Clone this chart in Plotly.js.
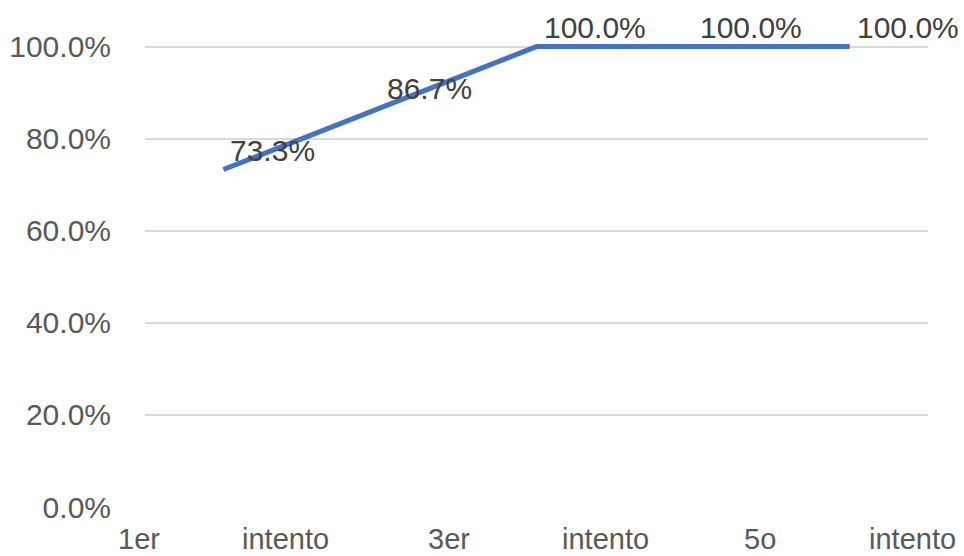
<!DOCTYPE html>
<html>
<head>
<meta charset="utf-8">
<script src="https://cdn.plot.ly/plotly-3.0.1.min.js"></script>
<style>
  html, body { margin: 0; padding: 0; background: #ffffff; }
  #chart { width: 964px; height: 556px; }
</style>
</head>
<body>
<div id="chart"></div>
<script>
// Success rate per attempt (percent)
const attempts = [0, 1, 2, 3, 4];
const successRate = [73.3, 86.7, 100.0, 100.0, 100.0];

// Category axis labels as they are laid out under the axis
const xTickPositions = [-0.54, 0.40, 1.44, 2.44, 3.43, 4.40];
const xTickLabels = ['1er', 'intento', '3er', 'intento', '5o', 'intento'];

// Value axis ticks
const yTickValues = [0, 20, 40, 60, 80, 100];
const yTickLabels = yTickValues.map(v => v.toFixed(1) + '%');

const xRange = [-0.5, 4.5];
const fontFamily = 'Liberation Sans, Arial, sans-serif';
const labelFont = { family: fontFamily, size: 30, color: '#404040' };
const axisFont = { family: fontFamily, size: 30, color: '#595959' };
const categoryFont = { family: fontFamily, size: 29, color: '#595959' };

const trace = {
  x: attempts,
  y: successRate,
  type: 'scatter',
  mode: 'lines',
  line: { color: '#4472C4', width: 5 },
  hoverinfo: 'skip'
};

// Data labels, to the upper right of each point
const valueLabels = attempts.map((x, i) => ({
  x: x,
  y: successRate[i],
  xref: 'x',
  yref: 'y',
  text: successRate[i].toFixed(1) + '%',
  showarrow: false,
  xanchor: 'left',
  yanchor: 'middle',
  xshift: 5,
  yshift: 19,
  font: labelFont
}));

// Category labels under the plot; placed in paper units so the first
// one can sit just left of the plotting area
const toPaper = v => (v - xRange[0]) / (xRange[1] - xRange[0]);
const categoryLabels = xTickPositions.map((x, i) => ({
  x: toPaper(x),
  y: 0,
  xref: 'paper',
  yref: 'paper',
  text: xTickLabels[i],
  showarrow: false,
  xanchor: 'center',
  yanchor: 'middle',
  yshift: -32,
  font: categoryFont
}));

const layout = {
  width: 964,
  height: 556,
  margin: { l: 145, r: 36, t: 42.4, b: 49, pad: 0 },
  paper_bgcolor: '#ffffff',
  plot_bgcolor: '#ffffff',
  showlegend: false,
  xaxis: {
    range: xRange,
    showticklabels: false,
    showgrid: false,
    zeroline: false,
    showline: false,
    ticks: '',
    fixedrange: true
  },
  yaxis: {
    range: [0, 101],
    tickvals: yTickValues,
    ticktext: yTickLabels,
    showgrid: true,
    gridcolor: '#d9d9d9',
    gridwidth: 2,
    zeroline: false,
    showline: false,
    ticks: 'outside',
    ticklen: 27,
    tickcolor: 'rgba(0,0,0,0)',
    tickfont: axisFont,
    fixedrange: true
  },
  annotations: valueLabels.concat(categoryLabels)
};

Plotly.newPlot('chart', [trace], layout, { displayModeBar: false, staticPlot: true });
</script>
</body>
</html>
